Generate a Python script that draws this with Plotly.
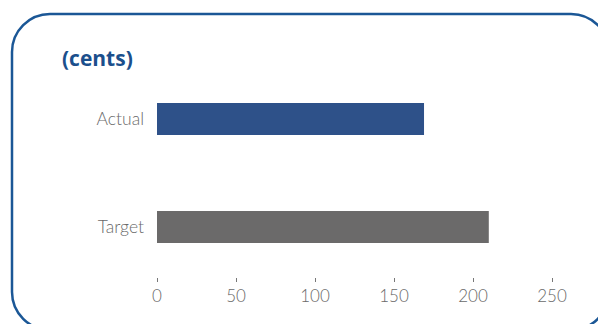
import plotly.graph_objects as go

categories = ["Target", "Actual"]
values = [210, 169]
bar_colors = ["#6b6a6a", "#2e5189"]
tick_vals = [0, 50, 100, 150, 200, 250]
title_text = "(cents)"

W, H = 598, 324
ML, MR, MT, MB = 157, 7, 65, 47
PW, PH = W - ML - MR, H - MT - MB

def px(x):
    return (x - ML) / PW

def py(y):
    return (H - MB - y) / PH

fig = go.Figure()
fig.add_trace(go.Bar(
    x=values, y=categories, orientation="h",
    marker=dict(color=bar_colors, line=dict(width=0)),
    width=0.296,
))

# rounded frame
x0, x1, y0, y1, r = 12, 609, 14, 330, 38
k = 0.45
path = (
    f"M {px(x0)},{py(y0 + r)} "
    f"C {px(x0)},{py(y0 + r*k)} {px(x0 + r*k)},{py(y0)} {px(x0 + r)},{py(y0)} "
    f"L {px(x1 - r)},{py(y0)} "
    f"C {px(x1 - r*k)},{py(y0)} {px(x1)},{py(y0 + r*k)} {px(x1)},{py(y0 + r)} "
    f"L {px(x1)},{py(y1 - r)} "
    f"C {px(x1)},{py(y1 - r*k)} {px(x1 - r*k)},{py(y1)} {px(x1 - r)},{py(y1)} "
    f"L {px(x0 + r)},{py(y1)} "
    f"C {px(x0 + r*k)},{py(y1)} {px(x0)},{py(y1 - r*k)} {px(x0)},{py(y1 - r)} Z"
)
fig.add_shape(type="path", path=path, xref="paper", yref="paper",
              line=dict(color="#1b5796", width=2.5), layer="above")

fig.add_annotation(
    text="<b>" + title_text + "</b>", x=px(60), y=py(58), xref="paper", yref="paper",
    xanchor="left", yanchor="middle", showarrow=False,
    font=dict(family="Open Sans", size=21, color="#1b4f8c"),
)

fig.update_layout(
    width=W, height=H,
    margin=dict(l=ML, r=MR, t=MT, b=MB, pad=0),
    paper_bgcolor="white", plot_bgcolor="white",
    showlegend=False,
    font=dict(family="Lato", color="#6a6a6a", size=17, weight=300),
    xaxis=dict(range=[0, PW / 1.58], tickvals=tick_vals, showgrid=False, zeroline=False,
               showline=False, ticks="outside", ticklen=4, tickcolor="#777777", tickwidth=1,
               tickfont=dict(size=17, color="#6a6a6a", family="Lato", weight=300)),
    yaxis=dict(range=[-0.463, 1.5], showgrid=False, zeroline=False, showline=False,
               ticks="", ticklabelstandoff=12,
               tickfont=dict(size=17.5, color="#6a6a6a", family="Lato", weight=300)),
)

fig.write_html("out.html", config={"displayModeBar": False},
               post_script="document.body.style.margin='0';document.body.style.overflow='hidden';")
